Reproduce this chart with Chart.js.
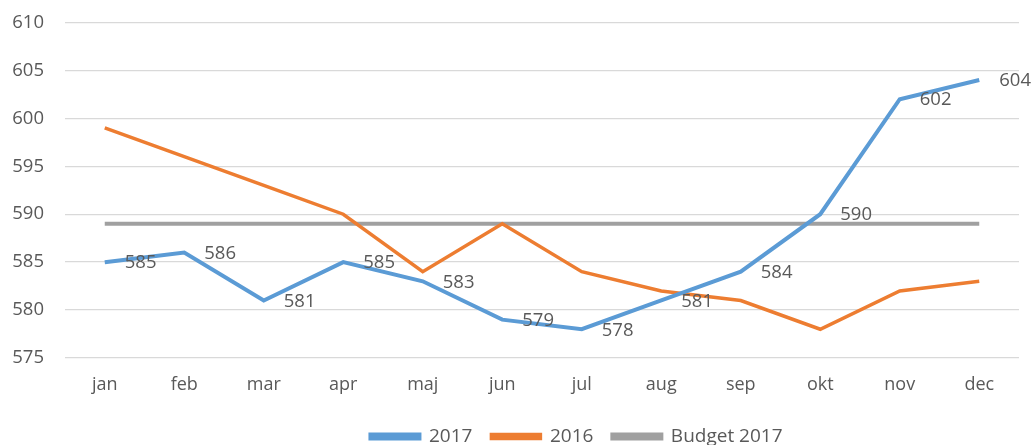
<!DOCTYPE html>
<html>
<head>
<meta charset="utf-8">
<script src="https://cdn.jsdelivr.net/npm/chart.js@4.4.1/dist/chart.umd.min.js"></script>
<style>
  html, body { margin: 0; padding: 0; background: #ffffff; }
  #wrap { width: 1034px; height: 445px; }
</style>
</head>
<body>
<div id="wrap"><canvas id="chart" width="1034" height="445"></canvas></div>
<script>
// Months shown on the category axis
const months = ['jan', 'feb', 'mar', 'apr', 'maj', 'jun', 'jul', 'aug', 'sep', 'okt', 'nov', 'dec'];

// Monthly values per series
const values2017 = [585, 586, 581, 585, 583, 579, 578, 581, 584, 590, 602, 604];
const values2016 = [599, 596, 593, 590, 584, 589, 584, 582, 581, 578, 582, 583];
const budget2017 = [589, 589, 589, 589, 589, 589, 589, 589, 589, 589, 589, 589];

// Value axis range and tick spacing
const yMin = 575;
const yMax = 610;
const yStep = 5;

const FONT = '"Open Sans", sans-serif';
const TEXT = '#595959';

// Writes the value next to every point of the 2017 series
const valueLabels = {
  id: 'valueLabels',
  afterDatasetsDraw(chart) {
    const ctx = chart.ctx;
    const meta = chart.getDatasetMeta(0);
    const data = chart.data.datasets[0].data;
    ctx.save();
    ctx.font = '18.5px ' + FONT;
    ctx.fillStyle = TEXT;
    ctx.textAlign = 'left';
    ctx.textBaseline = 'middle';
    meta.data.forEach((pt, i) => {
      ctx.fillText(String(data[i]), pt.x + 20, pt.y + 1);
    });
    ctx.restore();
  }
};

// Nudges the legend row right and down
const legendShift = {
  id: 'legendShift',
  afterLayout(chart) {
    const lg = chart.legend;
    if (lg) { lg.left += 67; lg.right += 67; lg.top += 11; lg.bottom += 11; }
  }
};

new Chart(document.getElementById('chart'), {
  type: 'line',
  data: {
    labels: months,
    datasets: [
      { label: '2017', data: values2017, borderColor: '#5B9BD5', backgroundColor: '#5B9BD5', borderWidth: 4 },
      { label: '2016', data: values2016, borderColor: '#ED7D31', backgroundColor: '#ED7D31', borderWidth: 3.5 },
      { label: 'Budget 2017', data: budget2017, borderColor: '#A0A0A0', backgroundColor: '#A0A0A0', borderWidth: 4 }
    ]
  },
  options: {
    responsive: false,
    animation: false,
    devicePixelRatio: 1,
    layout: { padding: { left: 0, right: 15, top: 22.5, bottom: 0 } },
    elements: {
      point: { radius: 0, hoverRadius: 0 },
      line: { tension: 0, borderCapStyle: 'butt', borderJoinStyle: 'miter' }
    },
    scales: {
      x: {
        offset: true,
        grid: { display: false },
        border: { display: false },
        ticks: { color: TEXT, font: { family: FONT, size: 18 }, padding: 8, maxRotation: 0 },
        afterFit(scale) { scale.height = 39; }
      },
      y: {
        min: yMin,
        max: yMax,
        grid: { color: '#D9D9D9', lineWidth: 1.3, drawTicks: false },
        border: { display: false },
        ticks: { stepSize: yStep, color: TEXT, font: { family: FONT, size: 18.5 }, padding: 21 },
        afterFit(scale) { scale.width = 65; scale.paddingTop = 0; scale.paddingBottom = 0; }
      }
    },
    plugins: {
      tooltip: { enabled: false },
      legend: {
        position: 'bottom',
        labels: {
          color: TEXT,
          font: { family: FONT, size: 19 },
          boxWidth: 49,
          boxHeight: 4,
          padding: 19
        }
      }
    }
  },
  plugins: [valueLabels, legendShift]
});
</script>
</body>
</html>
